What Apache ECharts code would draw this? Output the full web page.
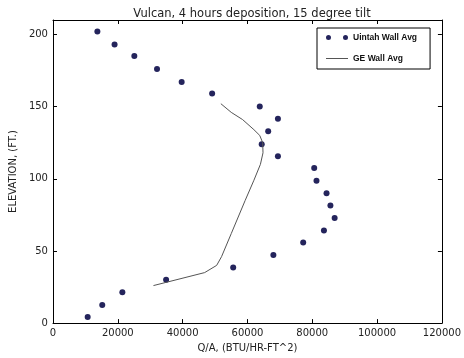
<!DOCTYPE html>
<html><head><meta charset="utf-8">
<script src="https://cdn.jsdelivr.net/npm/echarts@6/dist/echarts.min.js"></script>
<style>html,body{margin:0;padding:0;background:#fff}#c{width:464px;height:358px}</style>
</head><body><div id="c"></div>
<script>
const titleText = "Vulcan, 4 hours deposition, 15 degree tilt";
const xTicks = [0, 20000, 40000, 60000, 80000, 100000, 120000];
const yTicks = [0, 50, 100, 150, 200];
const uintahQ = [10700, 15200, 21400, 34900, 55600, 68000, 77200, 83600, 86900, 85600, 84400, 81300, 80600, 69400, 64400, 66400, 69400, 63800, 49100, 39700, 32100, 25100, 19000, 13700];
const uintahElev = [4.3, 12.6, 21.4, 30.1, 38.6, 47.1, 55.9, 64.1, 72.9, 81.4, 89.9, 98.6, 107.4, 115.6, 124.0, 133.0, 141.6, 150.0, 159.0, 167.0, 176.0, 185.0, 193.0, 202.0];
const geQ = [31000, 46800, 50500, 52000, 55000, 59300, 62000, 64000, 64800, 64700, 63800, 62000, 58500, 55000, 51800];
const geElev = [26, 35, 40, 46, 62, 85, 99, 110, 118, 125, 130, 134, 141, 146, 152];

const chart = echarts.init(document.getElementById('c'), null, {renderer: 'canvas'});
const font = 'DejaVu Sans';
const axisCommon = {
  axisLine: {show: true, onZero: false, lineStyle: {color: '#000', width: 1}},
  axisTick: {show: true, inside: true, length: 4, lineStyle: {color: '#000'}},
  splitLine: {show: false}
};
chart.setOption({
  backgroundColor: '#fff',
  animation: false,
  textStyle: {fontFamily: font},
  title: {text: titleText, left: 247, textAlign: 'center', top: 3,
    textStyle: {fontFamily: font, fontSize: 11.5, fontWeight: 'normal', color: '#222'}},
  grid: {left: 50, right: 21, top: 20, bottom: 34, containLabel: false},
  legend: {
    orient: 'vertical', left: 317, top: 28,
    borderColor: '#000', borderWidth: 1, backgroundColor: '#fff',
    padding: [5, 13, 6, 9], itemGap: 12, itemWidth: 22, itemHeight: 5,
    textStyle: {fontFamily: 'Liberation Sans', fontSize: 8.5, fontWeight: 'bold', color: '#111'},
    data: [
      {name: 'Uintah Wall Avg', icon: 'path://M0,2.5a2.5,2.5 0 1,0 5,0a2.5,2.5 0 1,0 -5,0M17,2.5a2.5,2.5 0 1,0 5,0a2.5,2.5 0 1,0 -5,0', itemStyle: {color: '#24245c', opacity: 1}},
      {name: 'GE Wall Avg', icon: 'path://M0,0h0.05v0.05h-0.05zM0,2.1h22v0.9h-22zM21.95,4.95h0.05v0.05h-0.05z', itemStyle: {color: '#555'}}
    ]
  },
  xAxis: [
    Object.assign({type: 'value', min: 0, max: 120000, interval: 20000, position: 'bottom',
      name: 'Q/A, (BTU/HR-FT^2)', nameLocation: 'middle', nameGap: 19,
      nameTextStyle: {fontFamily: font, fontSize: 10, color: '#222'},
      axisLabel: {fontFamily: font, fontSize: 10, color: '#222', margin: 5,
        formatter: v => xTicks.includes(v) ? String(v) : ''}}, axisCommon),
    Object.assign({type: 'value', min: 0, max: 120000, interval: 20000, position: 'top',
      axisLabel: {show: false}}, axisCommon)
  ],
  yAxis: [
    Object.assign({type: 'value', min: 0, max: 210, interval: 50, position: 'left',
      name: 'ELEVATION, (FT.)', nameLocation: 'middle', nameGap: 28,
      nameTextStyle: {fontFamily: font, fontSize: 10, color: '#222'},
      axisLabel: {fontFamily: font, fontSize: 10, color: '#222', margin: 5,
        formatter: v => yTicks.includes(v) ? String(v) : '', showMaxLabel: false}}, axisCommon),
    Object.assign({type: 'value', min: 0, max: 210, interval: 50, position: 'right',
      axisLabel: {show: false}}, axisCommon)
  ],
  series: [
    {name: 'Uintah Wall Avg', type: 'scatter', symbol: 'circle', symbolSize: 6,
      itemStyle: {color: '#24245c', opacity: 1},
      data: uintahQ.map((q, i) => [q, uintahElev[i]])},
    {name: 'GE Wall Avg', type: 'line', symbol: 'none', showSymbol: false,
      lineStyle: {color: '#555', width: 1}, itemStyle: {color: '#555'},
      data: geQ.map((q, i) => [q, geElev[i]])}
  ]
});
</script></body></html>
